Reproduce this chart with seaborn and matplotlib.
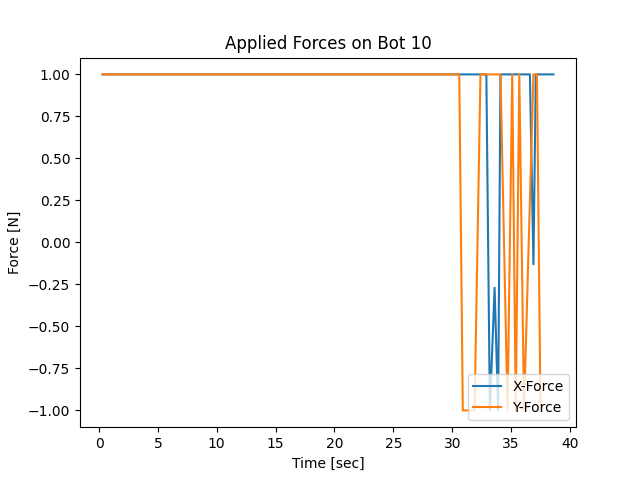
import matplotlib
matplotlib.use("Agg")
import matplotlib.pyplot as plt
import seaborn as sns
import pandas as pd

time_x = [0.3, 10.0, 20.0, 30.0, 32.9, 33.2, 33.6, 33.9, 34.1, 36.6, 36.9, 37.1, 38.6]
force_x = [1.0, 1.0, 1.0, 1.0, 1.0, -1.0, -0.27, -1.0, 1.0, 1.0, -0.13, 1.0, 1.0]

time_y = [0.3, 10.0, 20.0, 30.0, 30.6, 30.9, 31.9, 32.4, 34.1, 34.7, 35.1, 35.4, 35.7, 36.1, 36.9, 37.2, 37.5]
force_y = [1.0, 1.0, 1.0, 1.0, 1.0, -1.0, -1.0, 1.0, 1.0, -1.0, 1.0, -1.0, 1.0, -1.0, 1.0, 1.0, -1.0]

df_x = pd.DataFrame({"t": time_x, "f": force_x})
df_y = pd.DataFrame({"t": time_y, "f": force_y})

fig, ax = plt.subplots(figsize=(6.4, 4.8), dpi=100)
sns.lineplot(data=df_x, x="t", y="f", ax=ax, label="X-Force", color="#1f77b4", estimator=None, sort=False)
sns.lineplot(data=df_y, x="t", y="f", ax=ax, label="Y-Force", color="#ff7f0e", estimator=None, sort=False)
ax.set_title("Applied Forces on Bot 10")
ax.set_xlabel("Time [sec]")
ax.set_ylabel("Force [N]")
ax.legend(loc="lower right")
fig.savefig("out.png", dpi=100)
